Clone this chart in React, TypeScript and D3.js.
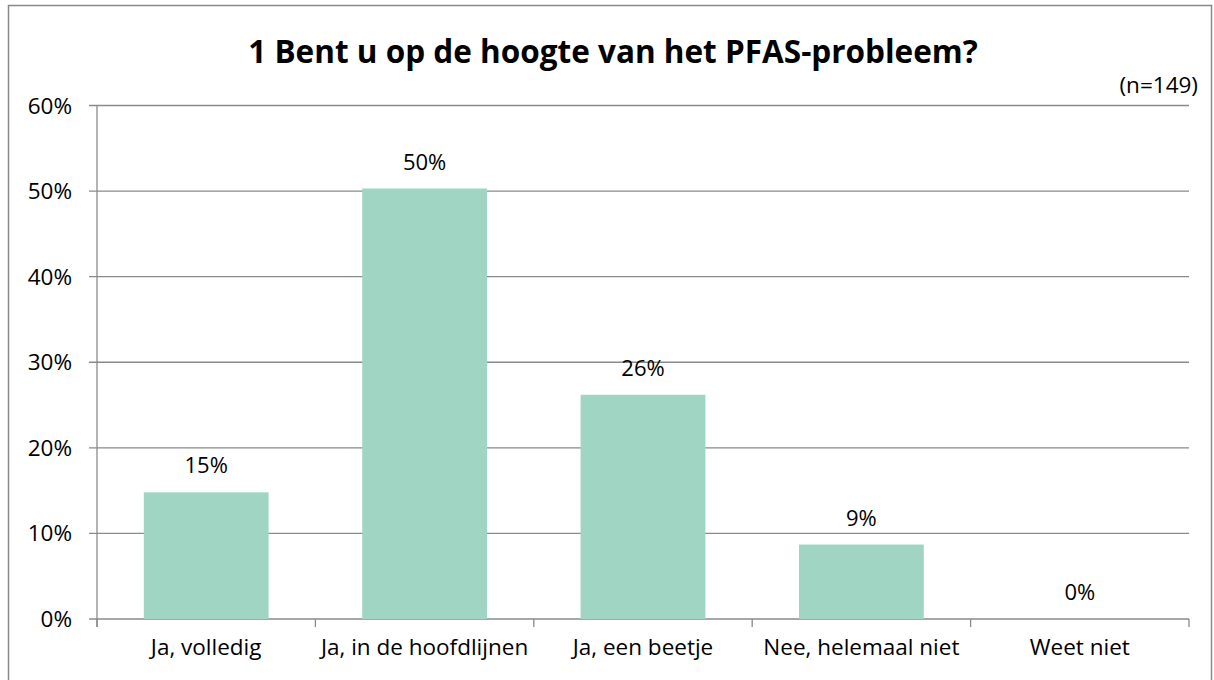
import React, { useEffect, useRef } from 'react';
import * as d3 from 'd3';

// data
const categories = ['Ja, volledig', 'Ja, in de hoofdlijnen', 'Ja, een beetje', 'Nee, helemaal niet', 'Weet niet'];
const values = [14.8, 50.3, 26.2, 8.7, 0];
const valueLabels = ['15%', '50%', '26%', '9%', '0%'];
const yTicks = [0, 10, 20, 30, 40, 50, 60];
const title = '1 Bent u op de hoogte van het PFAS-probleem?';
const note = '(n=149)';

const FONT = '"Open Sans", sans-serif';

export default function App() {
  const ref = useRef<SVGSVGElement>(null);

  useEffect(() => {
    draw();
  }, []);

  function draw() {
    const svg = d3.select(ref.current);
    svg.selectAll('*').remove();
    const width = 1214;
    const height = 680;
    const margin = { top: 105.5, right: 25, bottom: 61, left: 97 };

    // chart frame
    svg
      .append('rect')
      .attr('x', 8.5)
      .attr('y', 5.5)
      .attr('width', 1203)
      .attr('height', 700)
      .attr('fill', '#fff')
      .attr('stroke', '#898989')
      .attr('stroke-width', 1.5);

    svg
      .append('text')
      .attr('x', 613)
      .attr('y', 63)
      .attr('text-anchor', 'middle')
      .style('font-family', FONT)
      .style('font-weight', 'bold')
      .style('font-size', '31.5px')
      .text(title);

    svg
      .append('text')
      .attr('x', 1198)
      .attr('y', 93)
      .attr('text-anchor', 'end')
      .style('font-family', FONT)
      .style('font-size', '22.5px')
      .text(note);

    const x = d3
      .scaleBand()
      .domain(categories)
      .range([margin.left, width - margin.right])
      .paddingInner(0.4286)
      .paddingOuter(0.2143);
    const y = d3
      .scaleLinear()
      .domain([0, 60])
      .range([height - margin.bottom, margin.top]);

    const g = svg.append('g');

    // gridlines
    g.selectAll('.grid')
      .data(yTicks)
      .enter()
      .append('line')
      .attr('x1', margin.left - 8)
      .attr('x2', width - margin.right)
      .attr('y1', (d) => y(d))
      .attr('y2', (d) => y(d))
      .attr('stroke', '#8a8a8a')
      .attr('stroke-width', 1.3);

    g.selectAll('.ylab')
      .data(yTicks)
      .enter()
      .append('text')
      .attr('x', margin.left - 25)
      .attr('y', (d) => y(d) + 8)
      .attr('text-anchor', 'end')
      .style('font-family', FONT)
      .style('font-size', '22.5px')
      .text((d) => `${d}%`);

    // bars
    g.selectAll('.bar')
      .data(values)
      .enter()
      .append('rect')
      .attr('x', (d, i) => x(categories[i]) as number)
      .attr('y', (d) => y(d))
      .attr('width', x.bandwidth())
      .attr('height', (d) => y(0) - y(d))
      .attr('fill', '#a0d5c4');

    g.selectAll('.vlab')
      .data(values)
      .enter()
      .append('text')
      .attr('x', (d, i) => (x(categories[i]) as number) + x.bandwidth() / 2)
      .attr('y', (d) => y(d) - 19)
      .attr('text-anchor', 'middle')
      .style('font-family', FONT)
      .style('font-size', '22px')
      .text((d, i) => valueLabels[i]);

    // axes
    g.append('line')
      .attr('x1', margin.left)
      .attr('x2', margin.left)
      .attr('y1', y(60))
      .attr('y2', y(0) + 8)
      .attr('stroke', '#8a8a8a')
      .attr('stroke-width', 1.3);

    const step = x.step();
    g.selectAll('.xtick')
      .data(d3.range(categories.length + 1))
      .enter()
      .append('line')
      .attr('x1', (d) => margin.left + d * step)
      .attr('x2', (d) => margin.left + d * step)
      .attr('y1', y(0))
      .attr('y2', y(0) + 8)
      .attr('stroke', '#8a8a8a')
      .attr('stroke-width', 1.3);

    g.selectAll('.xlab')
      .data(categories)
      .enter()
      .append('text')
      .attr('x', (d) => (x(d) as number) + x.bandwidth() / 2)
      .attr('y', y(0) + 36)
      .attr('text-anchor', 'middle')
      .style('font-family', FONT)
      .style('font-size', '22.5px')
      .text((d) => d);
  }

  return (
    <svg
      ref={ref}
      width={1214}
      height={680}
      style={{ position: 'absolute', left: 0, top: 0, background: '#fff' }}
    ></svg>
  );
}
